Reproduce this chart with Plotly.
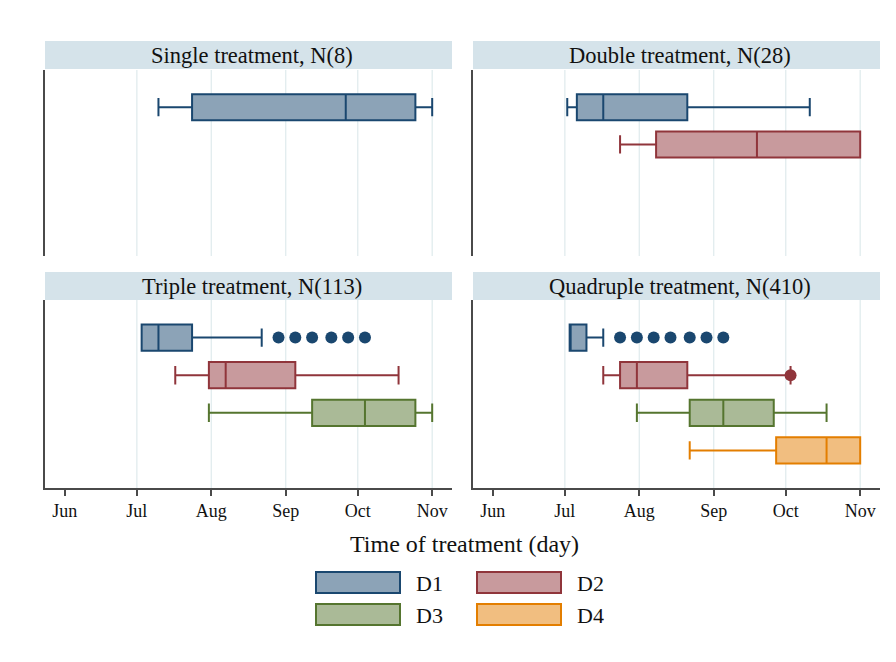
import plotly.graph_objects as go

# ---------------- data ----------------
panel_titles = ["Single treatment, N(8)", "Double treatment, N(28)",
                "Triple treatment, N(113)", "Quadruple treatment, N(410)"]
group_names = ["D1", "D2", "D3", "D4"]
group_line = ["#1a476f", "#90353b", "#55752f", "#e37e00"]
group_fill = ["#8ca3b7", "#c89a9d", "#aaba97", "#f1be80"]

month_ticks = ["2021-06-01", "2021-07-01", "2021-08-01",
               "2021-09-01", "2021-10-01", "2021-11-01"]
month_labels = ["Jun", "Jul", "Aug", "Sep", "Oct", "Nov"]

# one entry per box: panel index, group index, five-number summary (dates)
box_panel = [0, 1, 1, 2, 2, 2, 3, 3, 3, 3]
box_group = [0, 0, 1, 0, 1, 2, 0, 1, 2, 3]
box_low = ["2021-07-10", "2021-07-02", "2021-07-24", "2021-07-03", "2021-07-17",
           "2021-07-31", "2021-07-03", "2021-07-17", "2021-07-31", "2021-08-22"]
box_q1 = ["2021-07-24", "2021-07-06", "2021-08-08", "2021-07-03", "2021-07-31",
          "2021-09-12", "2021-07-03", "2021-07-24", "2021-08-22", "2021-09-27"]
box_median = ["2021-09-26", "2021-07-17", "2021-09-19", "2021-07-10", "2021-08-07",
              "2021-10-04", "2021-07-03", "2021-07-31", "2021-09-05", "2021-10-18"]
box_q3 = ["2021-10-25", "2021-08-21", "2021-11-01", "2021-07-24", "2021-09-05",
          "2021-10-25", "2021-07-10", "2021-08-21", "2021-09-26", "2021-11-01"]
box_high = ["2021-11-01", "2021-10-11", "2021-11-01", "2021-08-22", "2021-10-18",
            "2021-11-01", "2021-07-17", "2021-10-03", "2021-10-18", "2021-11-01"]

# outside values
out_panel = [2, 2, 2, 2, 2, 2, 3, 3, 3, 3, 3, 3, 3, 3]
out_group = [0, 0, 0, 0, 0, 0, 0, 0, 0, 0, 0, 0, 0, 1]
out_date = ["2021-08-29", "2021-09-05", "2021-09-12", "2021-09-20", "2021-09-27",
            "2021-10-04", "2021-07-24", "2021-07-31", "2021-08-07", "2021-08-14",
            "2021-08-22", "2021-08-29", "2021-09-05", "2021-10-03"]

x_range = ["2021-05-23T18:00", "2021-11-09T06:00"]

# ---------------- layout geometry (pixels in the 896x662 window) ----------------
OFF = 8                       # default page margin of the browser
W, H = 896 - OFF, 662 - OFF
px_x = [(45, 452), (473, 880), (45, 452), (473, 880)]
px_y = [(70, 256), (70, 256), (300, 488), (300, 488)]
strip_y = [(41, 69), (41, 69), (272, 300), (272, 300)]


def fx(p):
    return (p - OFF) / W


def fy(p):
    return 1 - (p - OFF) / H


FONT = "Liberation Serif, Times New Roman, serif"
AXC = "#4a4a4a"

fig = go.Figure()
axis_suffix = ["", "2", "3", "4"]

for i in range(len(box_panel)):
    p, g = box_panel[i], box_group[i]
    s = axis_suffix[p]
    fig.add_trace(go.Box(
        orientation="h",
        y=[g + 1],
        q1=[box_q1[i]], median=[box_median[i]], q3=[box_q3[i]],
        lowerfence=[box_low[i]], upperfence=[box_high[i]],
        width=0.7, whiskerwidth=0.7,
        fillcolor=group_fill[g],
        line=dict(color=group_line[g], width=2),
        boxpoints=False,
        name=group_names[g], showlegend=False, hoverinfo="skip",
        xaxis="x" + s, yaxis="y" + s,
    ))

for p in range(4):
    xs = [d for d, pp in zip(out_date, out_panel) if pp == p]
    gs = [g for g, pp in zip(out_group, out_panel) if pp == p]
    if not xs:
        continue
    fig.add_trace(go.Scatter(
        x=xs, y=[g + 1 for g in gs], mode="markers",
        marker=dict(size=12, color=[group_line[g] for g in gs], line=dict(width=0)),
        showlegend=False, hoverinfo="skip",
        xaxis="x" + axis_suffix[p], yaxis="y" + axis_suffix[p],
    ))

shapes = []
annotations = []
layout_axes = {}
for p in range(4):
    s = axis_suffix[p]
    bottom = p >= 2
    layout_axes["xaxis" + s] = dict(
        domain=[fx(px_x[p][0]), fx(px_x[p][1])],
        anchor="y" + s, type="date", range=x_range,
        tickvals=month_ticks, ticktext=month_labels,
        showticklabels=bottom, ticks="outside" if bottom else "",
        ticklen=6, tickwidth=1.5, tickcolor=AXC,
        showline=bottom, linecolor=AXC, linewidth=1.5,
        showgrid=False, zeroline=False,
        tickfont=dict(family=FONT, size=18, color="#111111"),
    )
    layout_axes["yaxis" + s] = dict(
        domain=[fy(px_y[p][1]), fy(px_y[p][0])],
        anchor="x" + s, range=[5, 0],
        showticklabels=False, ticks="", showgrid=False, zeroline=False,
        showline=True, linecolor=AXC, linewidth=1.5,
    )
    # vertical gridlines at month starts (the first one is omitted)
    for t in month_ticks[1:]:
        shapes.append(dict(type="line", xref="x" + s, yref="y" + s + " domain",
                           x0=t, x1=t, y0=0, y1=1,
                           line=dict(color="#e1ecee", width=1.3), layer="below"))
    # title strip
    shapes.append(dict(type="rect", xref="paper", yref="paper",
                       x0=fx(px_x[p][0]), x1=fx(px_x[p][1]),
                       y0=fy(strip_y[p][1]), y1=fy(strip_y[p][0]),
                       fillcolor="#d5e3ea", line=dict(width=0), layer="below"))
    annotations.append(dict(text=panel_titles[p], xref="paper", yref="paper",
                            x=fx((px_x[p][0] + px_x[p][1]) / 2 + 3),
                            y=fy((strip_y[p][0] + strip_y[p][1]) / 2),
                            xanchor="center", yanchor="middle", showarrow=False,
                            font=dict(family=FONT, size=22.5, color="#111111")))

annotations.append(dict(text="Time of treatment (day)", xref="paper", yref="paper",
                        x=fx(464), y=fy(544), xanchor="center", yanchor="middle",
                        showarrow=False, font=dict(family=FONT, size=24, color="#111111")))

# legend (2 x 2 keys)
key_x = [316, 477, 316, 477]
key_y = [572, 572, 604, 604]
for g in range(4):
    shapes.append(dict(type="rect", xref="paper", yref="paper",
                       x0=fx(key_x[g]), x1=fx(key_x[g] + 84),
                       y0=fy(key_y[g] + 21), y1=fy(key_y[g]),
                       fillcolor=group_fill[g],
                       line=dict(color=group_line[g], width=2)))
    annotations.append(dict(text=group_names[g], xref="paper", yref="paper",
                            x=fx(key_x[g] + 98), y=fy(key_y[g] + 11),
                            xanchor="left", yanchor="middle", showarrow=False,
                            font=dict(family=FONT, size=22, color="#111111")))

fig.update_layout(
    width=W, height=H,
    margin=dict(l=0, r=0, t=0, b=0),
    paper_bgcolor="white", plot_bgcolor="white",
    boxmode="overlay",
    shapes=shapes, annotations=annotations,
    showlegend=False,
    **layout_axes,
)

fig.write_html("out.html")
